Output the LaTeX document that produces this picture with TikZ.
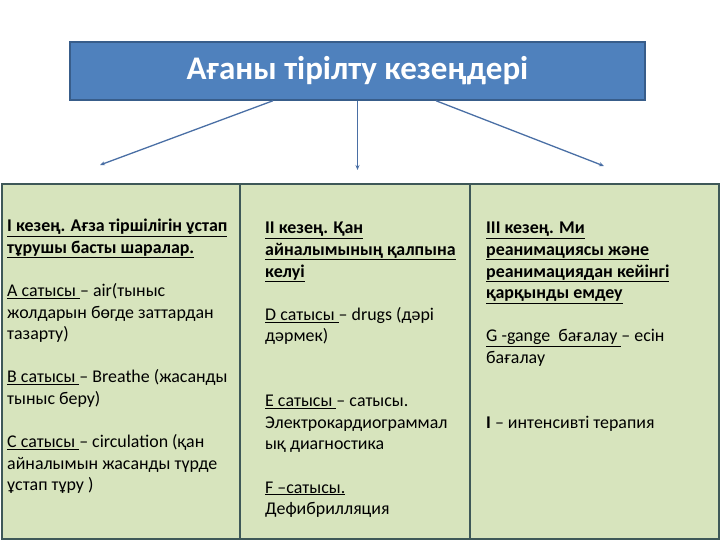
\documentclass[tikz,border=0pt]{standalone}
\usepackage{fontspec}
\setmainfont{Carlito}
\usetikzlibrary{arrows.meta}
\definecolor{titleblue}{HTML}{4F81BD}
\definecolor{titleedge}{HTML}{385D8A}
\definecolor{cellgreen}{HTML}{D7E4BD}
\definecolor{celledge}{HTML}{3E5858}
\definecolor{linkblue}{HTML}{4A6FA5}
\newcommand{\ul}[1]{\underline{#1}}

\begin{document}
\begin{tikzpicture}[x=1pt,y=-1pt,
   stagetext/.style={anchor=north west,align=left,inner sep=0pt,
      font=\fontsize{17.9}{21.6}\selectfont},
   link/.style={linkblue,line width=1.3pt,-{Stealth[length=5pt,width=4pt]}}]
            \useasboundingbox (0,0) rectangle (720,540);
            % title
            \node [draw=titleedge,line width=1.5pt,fill=titleblue,
                   minimum width=575pt,minimum height=58pt,text=white,
                   font=\fontsize{33}{36}\selectfont\bfseries]
               (title) at (357.5,71) {Ағаны тірілту кезеңдері};
            
            \coordinate (endI) at (100,165);
            \coordinate (endII) at (357.5,170);
            \coordinate (endIII) at (604,166);
            \draw [link] ([xshift=-84.5pt]title.south) -- (endI);
            \draw [link] (title.south) -- (endII);
            \draw [link] ([xshift=78.5pt]title.south) -- (endIII);
            
            % table
            \draw [celledge,line width=1.5pt,fill=cellgreen]
               (2,184) rectangle (240,539);
            \draw [celledge,line width=1.5pt,fill=cellgreen]
               (240,184) rectangle (470,539);
            \draw [celledge,line width=1.5pt,fill=cellgreen]
               (470,184) rectangle (719,539);
            
            \node [stagetext] (stageI) at (7,219)
               {\ul{\textbf{I кезең. Ағза тіршілігін ұстап}}\\
                \ul{\textbf{тұрушы басты шаралар.}}\\[21.6pt]
                \ul{А сатысы }– air(тыныс\\
                жолдарын бөгде заттардан\\
                тазарту)\\[21.6pt]
                \ul{В сатысы }– Breathe (жасанды\\
                тыныс беру)\\[21.6pt]
                \ul{С сатысы }– circulation (қан\\
                айналымын жасанды түрде\\
                ұстап тұру )};
            \node [stagetext] (stageII) at (265,222)
               {\ul{\textbf{II кезең. Қан}}\\
                \ul{\textbf{айналымының қалпына}}\\
                \ul{\textbf{келуі}}\\[21.6pt]
                \ul{D сатысы }– drugs (дәрі\\
                дәрмек)\\[43.2pt]
                \ul{Е сатысы }– сатысы.\\
                Электрокардиограммал\\
                ық диагностика\\[21.6pt]
                \ul{F –сатысы.}\\
                Дефибрилляция};
            \node [stagetext] (stageIII) at (486,222)
               {\ul{\textbf{III кезең. Ми}}\\
                \ul{\textbf{реанимациясы және}}\\
                \ul{\textbf{реанимациядан кейінгі}}\\
                \ul{\textbf{қарқынды емдеу}}\\[21.6pt]
                \ul{G -gange\ \ бағалау }– есін\\
                бағалау\\[43.2pt]
                \textbf{I} – интенсивті терапия};
         \end{tikzpicture}
\end{document}
